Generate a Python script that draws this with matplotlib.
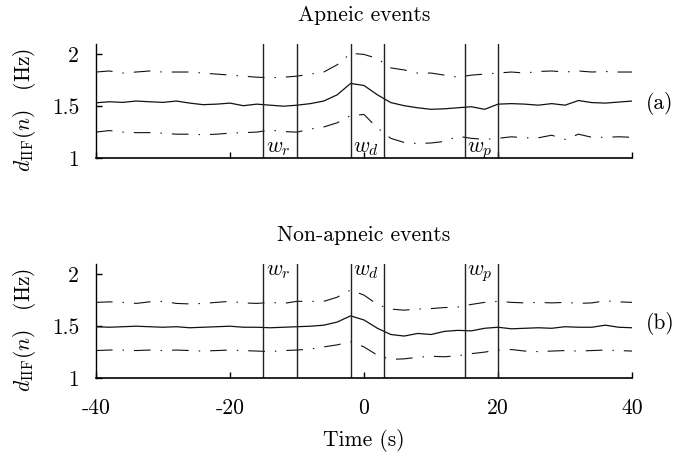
import numpy as np
import matplotlib
matplotlib.use("Agg")
import matplotlib.pyplot as plt

plt.rcParams["font.family"] = ["cmr10", "DejaVu Serif"]
plt.rcParams["mathtext.fontset"] = "cm"
plt.rcParams["axes.unicode_minus"] = False
plt.rcParams["axes.formatter.use_mathtext"] = True

# time axis (s), one sample every 2 s
time = np.arange(-40, 41, 2)

# apneic events
apn_mean = [1.533, 1.543, 1.537, 1.55, 1.543, 1.537, 1.55, 1.53, 1.515, 1.52, 1.53,
            1.505, 1.52, 1.51, 1.50, 1.51, 1.525, 1.55, 1.61, 1.72, 1.70, 1.61, 1.535,
            1.505, 1.485, 1.47, 1.475, 1.485, 1.495, 1.47, 1.52, 1.525, 1.52, 1.51,
            1.525, 1.51, 1.555, 1.535, 1.53, 1.54, 1.55]
apn_upper = [1.83, 1.84, 1.82, 1.83, 1.84, 1.83, 1.83, 1.83, 1.82, 1.81, 1.80,
             1.79, 1.78, 1.775, 1.78, 1.79, 1.81, 1.83, 1.90, 2.01, 2.00, 1.96, 1.87,
             1.85, 1.82, 1.82, 1.80, 1.78, 1.80, 1.81, 1.82, 1.83, 1.82, 1.835,
             1.84, 1.83, 1.84, 1.83, 1.835, 1.83, 1.83]
apn_lower = [1.25, 1.265, 1.25, 1.245, 1.245, 1.24, 1.23, 1.23, 1.225, 1.23, 1.24,
             1.245, 1.25, 1.27, 1.255, 1.25, 1.28, 1.30, 1.34, 1.41, 1.42, 1.29, 1.19,
             1.15, 1.14, 1.145, 1.16, 1.21, 1.19, 1.18, 1.19, 1.205, 1.195, 1.195,
             1.22, 1.18, 1.23, 1.20, 1.20, 1.205, 1.20]

# non-apneic events
non_mean = [1.495, 1.49, 1.495, 1.50, 1.495, 1.49, 1.495, 1.485, 1.49, 1.495, 1.50,
            1.49, 1.49, 1.485, 1.49, 1.495, 1.50, 1.51, 1.54, 1.60, 1.56, 1.48, 1.42,
            1.405, 1.43, 1.42, 1.45, 1.46, 1.455, 1.48, 1.49, 1.475, 1.48, 1.485,
            1.48, 1.495, 1.49, 1.49, 1.51, 1.49, 1.485]
non_upper = [1.73, 1.735, 1.73, 1.72, 1.735, 1.74, 1.72, 1.715, 1.72, 1.73, 1.74,
             1.725, 1.72, 1.73, 1.72, 1.74, 1.74, 1.74, 1.78, 1.85, 1.80, 1.71, 1.665,
             1.655, 1.665, 1.67, 1.68, 1.685, 1.71, 1.73, 1.74, 1.73, 1.725, 1.73,
             1.725, 1.73, 1.72, 1.725, 1.745, 1.735, 1.73]
non_lower = [1.265, 1.27, 1.27, 1.265, 1.27, 1.265, 1.27, 1.265, 1.26, 1.265, 1.27,
             1.265, 1.26, 1.255, 1.265, 1.27, 1.28, 1.30, 1.32, 1.35, 1.30, 1.22, 1.18,
             1.185, 1.20, 1.21, 1.205, 1.215, 1.235, 1.25, 1.27, 1.275, 1.26, 1.255,
             1.26, 1.265, 1.26, 1.265, 1.27, 1.265, 1.26]

win_edges = [-15, -10, -2, 3, 15, 20]
win_labels = [r"$w_r$", r"$w_d$", r"$w_p$"]
win_starts = [-15, -2, 15]
xticks = [-40, -20, 0, 20, 40]
xticklabels = ["-40", "-20", "0", "20", "40"]
yticks = [1, 1.5, 2]
yticklabels = ["1", "1.5", "2"]

fs = 15.5

fig = plt.figure(figsize=(7, 4.55), dpi=100)
ax1 = fig.add_axes([0.137, 0.6527, 0.766, 0.2505])
ax2 = fig.add_axes([0.137, 0.1692, 0.766, 0.2505])

dashdot = (0, (15, 9, 1.3, 9))
panels = [
    (ax1, apn_mean, apn_upper, apn_lower, "Apneic events", "(a)", 1.06),
    (ax2, non_mean, non_upper, non_lower, "Non-apneic events", "(b)", 1.99),
]

for ax, m, up, lo, title, tag, wy in panels:
    ax.plot(time, m, color="#111111", lw=0.9)
    ax.plot(time, up, color="#111111", lw=0.8, linestyle=dashdot)
    ax.plot(time, lo, color="#111111", lw=0.8, linestyle=dashdot)
    for xv in win_edges:
        ax.axvline(xv, color="#222222", lw=1.0)
    for xs, lab in zip(win_starts, win_labels):
        ax.text(xs + 0.35, wy, lab, fontsize=16, ha="left", va="baseline")
    ax.set_xlim(-40, 40)
    ax.set_ylim(1, 2.1)
    ax.spines["top"].set_visible(False)
    ax.spines["right"].set_visible(False)
    ax.spines["left"].set_linewidth(1.0)
    ax.spines["bottom"].set_linewidth(1.2)
    ax.set_yticks(yticks)
    ax.set_yticklabels(yticklabels)
    ax.set_xticks(xticks)
    ax.tick_params(direction="in", length=4, width=1, labelsize=fs)
    ax.tick_params(axis="y", pad=12)
    ax.tick_params(axis="x", pad=15)
    ax.set_ylabel(r"$d_{\mathrm{IIF}}(n)\quad$(Hz)", fontsize=fs, va="center")
    ax.yaxis.set_label_coords(-0.133, 0.42)
    ax.text(0.5, 1.25, title, transform=ax.transAxes, ha="center", va="center", fontsize=fs)
    ax.text(1.052, 0.48, tag, transform=ax.transAxes, ha="center", va="center", fontsize=fs)

ax1.set_xticklabels([])
ax2.set_xticklabels(xticklabels)
ax2.set_xlabel("Time (s)", fontsize=fs, labelpad=8)

fig.savefig("out.png", dpi=100)
